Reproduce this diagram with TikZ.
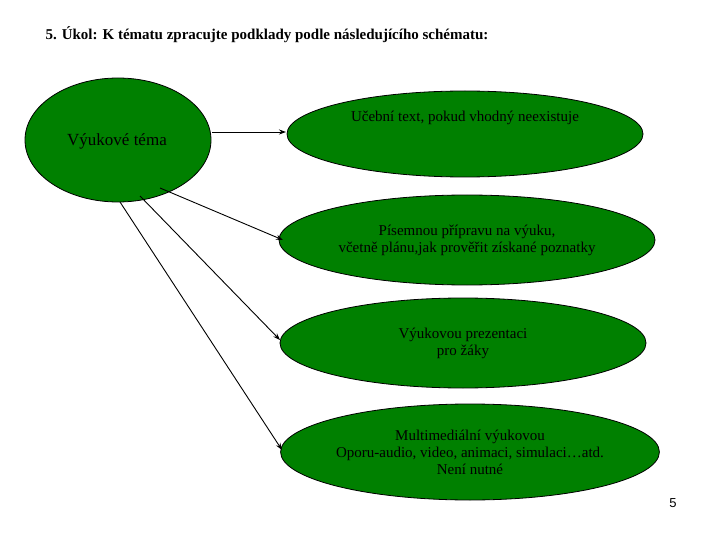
\documentclass[tikz,border=0pt]{standalone}
\usepackage{fontspec}
\setmainfont{Liberation Serif}
\setsansfont{Liberation Sans}
\usetikzlibrary{shapes.geometric,arrows.meta}
\definecolor{eg}{RGB}{0,128,0}
\begin{document}
\begin{tikzpicture}[x=1pt,y=-1pt,
  ell/.style={ellipse,draw=black,line width=0.8pt,fill=eg,inner sep=0pt,align=center,font=\fontsize{15}{17}\selectfont},
  arr/.style={-{Stealth[length=7pt,width=5pt]},line width=0.9pt}]
\useasboundingbox (0,0) rectangle (720,540);
\node[font=\bfseries\fontsize{15}{17}\selectfont,anchor=west] (t) at (42,35) {5. Úkol: K tématu zpracujte podklady podle následujícího schématu:};
\node[ell,minimum width=186,minimum height=124] (v) at (118,140) {};
\node[font=\fontsize{17}{19}\selectfont] (vt) at (117,141) {Výukové téma};
\node[ell,minimum width=356,minimum height=86] (a) at (465,134) {Učební text, pokud vhodný neexistuje\\[18pt]};
\node[ell,minimum width=376,minimum height=90] (b) at (467,240) {Písemnou přípravu na výuku,\\včetně plánu,jak prověřit získané poznatky};
\node[ell,minimum width=366,minimum height=90] (c) at (463,343) {Výukovou prezentaci\\pro žáky};
\node[ell,minimum width=374,minimum height=96] (d) at (470,452) {Multimediální výukovou\\Oporu-audio, video, animaci, simulaci…atd.\\Není nutné};
\node[font=\sffamily\fontsize{13}{15}\selectfont] (n) at (673,503) {5};
\coordinate (s1) at (212,132); \coordinate (e1) at (286,132);
\coordinate (s2) at (160,188); \coordinate (e2) at (283,240);
\coordinate (s3) at (140,196); \coordinate (e3) at (280,340);
\coordinate (s4) at (120,202); \coordinate (e4) at (282,450);
\draw[arr] (s1) -- (e1);
\draw[arr] (s2) -- (e2);
\draw[arr] (s3) -- (e3);
\draw[arr] (s4) -- (e4);
\end{tikzpicture}
\end{document}
